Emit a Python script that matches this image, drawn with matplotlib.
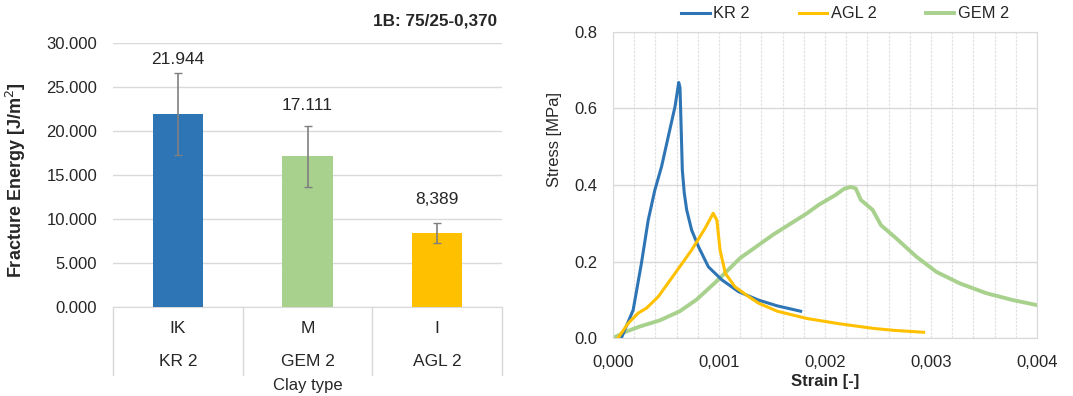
import numpy as np
import matplotlib
matplotlib.use("Agg")
import matplotlib.pyplot as plt
from matplotlib.ticker import FuncFormatter, MultipleLocator
import matplotlib.transforms as mtransforms

plt.rcParams['font.family'] = ['Liberation Sans', 'DejaVu Sans']

# ---- Bar chart data ----
clay_codes = ["IK", "M", "I"]
clay_names = ["KR 2", "GEM 2", "AGL 2"]
energy = [21944, 17111, 8389]
energy_err = [4650, 3420, 1170]
energy_labels = ["21.944", "17.111", "8,389"]
label_heights = [28070, 22950, 12160]
bar_colors = ["#2E75B6", "#A9D18E", "#FFC000"]
yticks_bar = [0, 5000, 10000, 15000, 20000, 25000, 30000]

# ---- Stress-strain curves ----
kr_strain = [0.0000787, 0.00019, 0.000268, 0.000332, 0.000395, 0.000458, 0.000521, 0.000585,
             0.00062, 0.000632, 0.000641, 0.000654, 0.000672, 0.000695, 0.000742, 0.000806,
             0.0009, 0.001027, 0.001185, 0.001374, 0.00155, 0.00177]
kr_stress = [0.0, 0.073, 0.195, 0.308, 0.387, 0.448, 0.526, 0.605,
             0.668, 0.655, 0.570, 0.439, 0.380, 0.335, 0.282, 0.239,
             0.186, 0.152, 0.121, 0.099, 0.084, 0.070]

agl_strain = [0.0000474, 0.000142, 0.000237, 0.000316, 0.000427, 0.000585, 0.000742, 0.000869,
              0.000945, 0.00098, 0.00101, 0.00106, 0.00115, 0.00128, 0.001374, 0.00155,
              0.00183, 0.00214, 0.00246, 0.00265, 0.00293]
agl_stress = [0.0, 0.038, 0.065, 0.078, 0.108, 0.169, 0.230, 0.287,
              0.326, 0.308, 0.230, 0.169, 0.134, 0.108, 0.091, 0.070,
              0.051, 0.037, 0.025, 0.020, 0.015]

gem_strain = [0.0, 0.000126, 0.000252, 0.000441, 0.00063, 0.000787, 0.000976, 0.0012,
              0.00151, 0.00183, 0.00194, 0.0021, 0.00218, 0.002244, 0.00229, 0.002338,
              0.002449, 0.002528, 0.00267, 0.00286, 0.00305, 0.00327, 0.003523, 0.003775, 0.004]
gem_stress = [0.0, 0.017, 0.030, 0.046, 0.070, 0.100, 0.148, 0.209,
              0.270, 0.326, 0.348, 0.374, 0.390, 0.395, 0.391, 0.361,
              0.335, 0.295, 0.261, 0.213, 0.173, 0.143, 0.117, 0.099, 0.086]

fig = plt.figure(figsize=(10.73, 3.96), dpi=100)
txt = "#262626"
grid_c = "#D9D9D9"

# ---------- Left: bar chart ----------
ax1 = fig.add_axes([113/1073, 1-307/396, 389/1073, 264/396])
x = np.arange(len(energy))
ax1.bar(x, energy, width=0.39, color=bar_colors, zorder=3)
ax1.errorbar(x, energy, yerr=energy_err, fmt='none', ecolor="#7F7F7F",
             elinewidth=1.2, capsize=3, capthick=1.0, zorder=4)
for xi, h, lab in zip(x, label_heights, energy_labels):
    ax1.text(xi, h, lab, ha='center', va='center', fontsize=12.5, color=txt)
ax1.set_xlim(-0.5, 2.5)
ax1.set_ylim(0, 30000)
ax1.set_yticks(yticks_bar)
ax1.yaxis.set_major_formatter(FuncFormatter(lambda v, p: f"{v/1000:.3f}"))
ax1.tick_params(axis='y', length=0, pad=11.5, labelsize=12, labelcolor=txt)
ax1.set_xticks([])
ax1.grid(axis='y', color=grid_c, lw=1.0, zorder=0)
for s in ['left', 'right', 'top']:
    ax1.spines[s].set_visible(False)
ax1.spines['bottom'].set_color(grid_c)
trans = mtransforms.blended_transform_factory(ax1.transData, ax1.transAxes)
for b in [-0.5, 0.5, 1.5, 2.5]:
    ax1.plot([b, b], [0, -0.2576], transform=trans, color=grid_c, lw=1.0, clip_on=False)
for xi, c, n in zip(x, clay_codes, clay_names):
    ax1.text(xi, -0.083, c, transform=trans, ha='center', va='center', fontsize=12.5, color=txt)
    ax1.text(xi, -0.208, n, transform=trans, ha='center', va='center', fontsize=12.5, color=txt)
ax1.text(1, -0.299, "Clay type", transform=trans, ha='center', va='center', fontsize=12, color=txt)
ax1.set_ylabel("Fracture Energy [J/m$^2$]", fontsize=13, fontweight='bold', color=txt)
ax1.yaxis.set_label_coords(-0.218, 0.48)
fig.text(497/1073, 1-21/396, "1B: 75/25-0,370", ha='right', va='center',
         fontsize=12.3, fontweight='bold', color=txt)

# ---------- Right: stress-strain ----------
ax2 = fig.add_axes([613/1073, 1-338/396, 424/1073, 306/396])
l1, = ax2.plot(kr_strain, kr_stress, color="#2E75B6", lw=2.2, label="KR 2", zorder=3)
l2, = ax2.plot(agl_strain, agl_stress, color="#FFC000", lw=2.2, label="AGL 2", zorder=4)
l3, = ax2.plot(gem_strain, gem_stress, color="#A9D18E", lw=2.8, label="GEM 2", zorder=2)
ax2.set_xlim(0, 0.004)
ax2.set_ylim(0, 0.8)
ax2.xaxis.set_major_locator(MultipleLocator(0.001))
ax2.xaxis.set_minor_locator(MultipleLocator(0.0002))
ax2.yaxis.set_major_locator(MultipleLocator(0.2))
ax2.xaxis.set_major_formatter(FuncFormatter(lambda v, p: f"{v:.3f}".replace('.', ',')))
ax2.yaxis.set_major_formatter(FuncFormatter(lambda v, p: f"{v:.1f}"))
ax2.tick_params(which='both', length=0, labelsize=12, labelcolor=txt)
ax2.tick_params(axis='y', pad=11.5)
ax2.tick_params(axis='x', pad=12)
ax2.grid(axis='y', which='major', color=grid_c, lw=1.0, zorder=0)
ax2.grid(axis='x', which='both', color="#E3E3E3", lw=0.9, ls=(0, (2, 1)), zorder=0)
for s in ax2.spines.values():
    s.set_color(grid_c)
ax2.set_xlabel("Strain [-]", fontsize=12, fontweight='bold', color=txt, labelpad=3)
ax2.set_ylabel("Stress [MPa]", fontsize=12, color=txt)
ax2.yaxis.set_label_coords(-0.12, 0.649)
fig.legend(handles=[l1, l2, l3], loc='center', bbox_to_anchor=(845/1073, 1-14/396),
           ncol=3, frameon=False, fontsize=11.8, handlelength=1.75, handletextpad=0.2,
           columnspacing=3.0, labelcolor=txt)

fig.savefig("out.png", dpi=100)
